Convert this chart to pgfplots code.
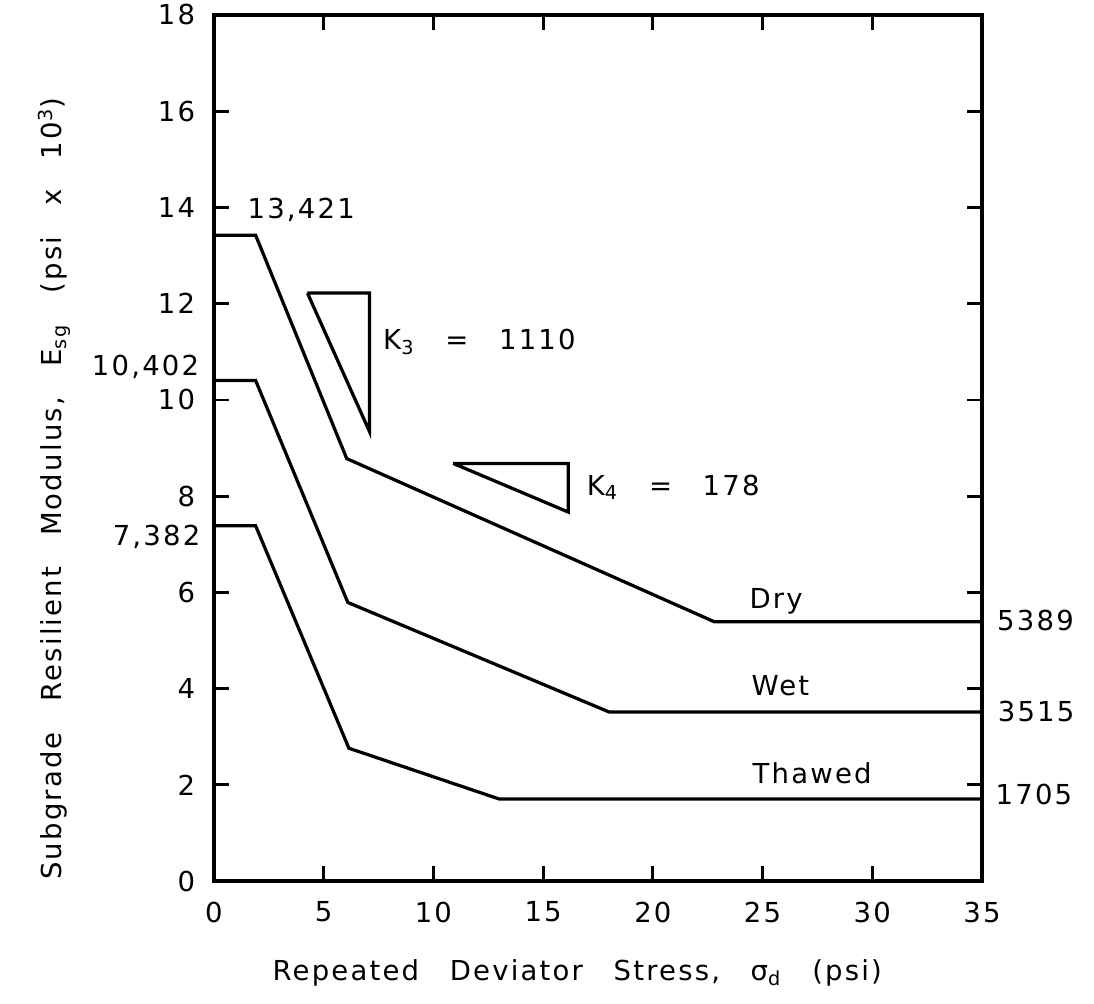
\documentclass[border=0pt]{standalone}
\usepackage{fontspec}
\setmainfont{DejaVu Sans}[LetterSpace=8, WordSpace=2.8]
\usepackage{pgfplots}
\pgfplotsset{compat=1.18}

\begin{document}
\begin{tikzpicture}
\begin{axis}[
  scale only axis,
  width=307.2pt, height=346.4pt,
  xmin=0, xmax=35, ymin=0, ymax=18,
  xtick={0,5,...,35}, ytick={0,2,...,18},
  tick align=inside, major tick length=6pt,
  xtick pos=both, xticklabel pos=lower,
  ytick pos=both, yticklabel pos=left,
  axis line style={line width=1.3pt},
  every tick/.style={line width=1.1pt, black},
  ticklabel style={font=\fontsize{11}{13}\selectfont},
  /pgf/number format/assume math mode=true,
  xticklabel style={yshift=-4.7pt},
  yticklabel style={xshift=-4pt},
  xlabel={Repeated Deviator Stress, σ\textsubscript{d} (psi)},
  ylabel={Subgrade Resilient Modulus, E\textsubscript{sg} (psi x 10\textsuperscript{3})},
  label style={font=\fontsize{11}{13}\selectfont},
  xlabel style={at={([yshift=-39.6pt]rel axis cs:0.473,0)}, anchor=base},
  ylabel style={at={([xshift=-60.8pt]rel axis cs:0,0.453)}, anchor=base},
  clip=false,
]
% Dry
\addplot[black, line width=1.3pt] coordinates
  {(0,13.421)(1.9,13.421)(6.05,8.78)(22.8,5.389)(35,5.389)};
% Wet
\addplot[black, line width=1.3pt] coordinates
  {(0,10.402)(1.9,10.402)(6.1,5.79)(18.0,3.515)(35,3.515)};
% Thawed
\addplot[black, line width=1.3pt] coordinates
  {(0,7.382)(1.9,7.382)(6.15,2.76)(13.0,1.705)(35,1.705)};
% slope triangles
\addplot[black, line width=1.3pt, line join=miter] coordinates
  {(4.26,12.22)(7.09,12.22)(7.09,9.34)(4.26,12.22)};
\addplot[black, line width=1.3pt, line join=miter] coordinates
  {(10.9,8.68)(16.14,8.68)(16.14,7.67)(10.9,8.68)};

\begin{scope}[every node/.style={font=\fontsize{11}{13}\selectfont, inner sep=0pt}]
\node[anchor=base west] at (axis cs:1.51,13.77) {13,421};
\node[anchor=base east] at (axis cs:-0.65,10.5) {10,402};
\node[anchor=base east] at (axis cs:-0.6,6.97) {7,382};
\node[anchor=base west] at (axis cs:7.69,11.05) {K\textsubscript{3} = 1110};
\node[anchor=base west] at (axis cs:16.97,8.02) {K\textsubscript{4} = 178};
\node[anchor=base] at (axis cs:25.62,5.66) {Dry};
\node[anchor=base] at (axis cs:25.81,3.86) {Wet};
\node[anchor=base] at (axis cs:27.26,2.03) {Thawed};
\node[anchor=base west] at (axis cs:35.67,5.21) {5389};
\node[anchor=base west] at (axis cs:35.7,3.31) {3515};
\node[anchor=base west] at (axis cs:35.6,1.59) {1705};
\end{scope}
\coordinate (bbsw) at (rel axis cs:-0.2786,-0.1409);
\coordinate (bbne) at (rel axis cs:1.1458,1.0173);
\end{axis}
\pgfresetboundingbox
\path[use as bounding box] (bbsw) rectangle (bbne);
\end{tikzpicture}
\end{document}
